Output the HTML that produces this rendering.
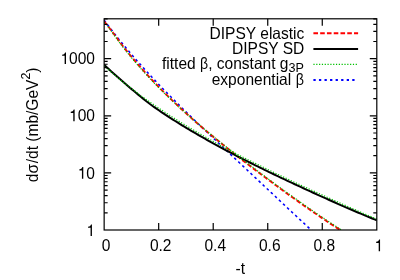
<!DOCTYPE html>
<html><head><meta charset="utf-8"><style>
html,body{margin:0;padding:0;background:#fff;}
svg{display:block}
text{font-family:"Liberation Sans",sans-serif;font-size:15.55px;fill:#000}
</style></head><body>
<svg width="400" height="280" viewBox="0 0 400 280">
<rect width="400" height="280" fill="#fff"/>
<defs><filter id="bl" x="-5%" y="-5%" width="110%" height="110%"><feGaussianBlur stdDeviation="0.35"/></filter><clipPath id="c"><rect x="104.15" y="18.8" width="272.65" height="211.2"/></clipPath></defs>
<g clip-path="url(#c)" fill="none" filter="url(#bl)">
<path d="M104.15,20.15 L105.93,22.54 L107.71,24.92 L109.49,27.26 L111.27,29.59 L113.05,31.88 L114.83,34.16 L116.61,36.41 L118.39,38.64 L120.17,40.85 L121.95,43.04 L123.73,45.20 L125.51,47.35 L127.29,49.48 L129.07,51.59 L130.85,53.68 L132.63,55.75 L134.41,57.81 L136.19,59.85 L137.97,61.87 L139.76,63.87 L141.54,65.86 L143.32,67.84 L145.10,69.80 L146.88,71.75 L148.66,73.69 L150.44,75.61 L152.22,77.52 L154.00,79.41 L155.78,81.30 L157.56,83.17 L159.34,85.03 L161.12,86.89 L162.90,88.73 L164.68,90.56 L166.46,92.38 L168.24,94.20 L170.02,96.00 L171.80,97.80 L173.58,99.59 L175.36,101.37 L177.14,103.15 L178.92,104.91 L180.70,106.67 L182.48,108.43 L184.26,110.18 L186.04,111.92 L187.82,113.66 L189.60,115.39 L191.38,117.12 L193.16,118.84 L194.94,120.56 L196.72,122.28 L198.50,123.99 L200.28,125.70 L202.06,127.40 L203.84,129.10 L205.62,130.80 L207.40,132.50 L209.18,134.19 L210.97,135.88 L212.75,137.57 L214.53,139.25 L216.31,140.94 L218.09,142.62 L219.87,144.31 L221.65,145.99 L223.43,147.67 L225.21,149.35 L226.99,151.02 L228.77,152.70 L230.55,154.38 L232.33,156.05 L234.11,157.73 L235.89,159.40 L237.67,161.08 L239.45,162.75 L241.23,164.43 L243.01,166.10 L244.79,167.78 L246.57,169.45 L248.35,171.12 L250.13,172.80 L251.91,174.47 L253.69,176.15 L255.47,177.82 L257.25,179.50 L259.03,181.17 L260.81,182.85 L262.59,184.52 L264.37,186.20 L266.15,187.88 L267.93,189.55 L269.71,191.23 L271.49,192.90 L273.27,194.58 L275.05,196.25 L276.83,197.93 L278.61,199.60 L280.39,201.27 L282.18,202.95 L283.96,204.62 L285.74,206.29 L287.52,207.96 L289.30,209.63 L291.08,211.30 L292.86,212.96 L294.64,214.63 L296.42,216.29 L298.20,217.95 L299.98,219.61 L301.76,221.27 L303.54,222.92 L305.32,224.57 L307.10,226.22 L308.88,227.87 L310.66,229.51 L312.44,231.15 L314.22,232.79 L316.00,234.42" stroke="#0000ff" stroke-width="1.55" stroke-dasharray="2.6 2.98"/>
<path d="M104.15,21.48 L106.17,23.87 L108.20,26.45 L110.22,29.03 L112.25,31.79 L114.27,34.51 L116.29,37.22 L118.32,40.04 L120.34,42.82 L122.37,45.54 L124.39,48.09 L126.41,50.61 L128.44,53.09 L130.46,55.54 L132.49,57.97 L134.51,60.36 L136.53,62.73 L138.56,65.06 L140.58,67.37 L142.61,69.65 L144.63,71.91 L146.65,74.14 L148.68,76.34 L150.70,78.52 L152.72,80.68 L154.75,82.81 L156.77,84.92 L158.80,87.01 L160.82,89.08 L162.84,91.12 L164.87,93.15 L166.89,95.15 L168.92,97.14 L170.94,99.11 L172.96,101.06 L174.99,102.99 L177.01,104.91 L179.04,106.81 L181.06,108.69 L183.08,110.56 L185.11,112.41 L187.13,114.24 L189.16,116.07 L191.18,117.88 L193.20,119.67 L195.23,121.45 L197.25,123.22 L199.28,124.98 L201.30,126.72 L203.32,128.46 L205.35,130.18 L207.37,131.89 L209.40,133.59 L211.42,135.28 L213.44,136.97 L215.47,138.64 L217.49,140.30 L219.52,141.95 L221.54,143.60 L223.56,145.24 L225.59,146.87 L227.61,148.49 L229.63,150.10 L231.66,151.71 L233.68,153.31 L235.71,154.90 L237.73,156.48 L239.75,158.06 L241.78,159.64 L243.80,161.20 L245.83,162.76 L247.85,164.32 L249.87,165.87 L251.90,167.42 L253.92,168.95 L255.95,170.49 L257.97,172.02 L259.99,173.54 L262.02,175.06 L264.04,176.58 L266.07,178.09 L268.09,179.59 L270.11,181.09 L272.14,182.59 L274.16,184.08 L276.19,185.57 L278.21,187.05 L280.23,188.53 L282.26,190.00 L284.28,191.47 L286.31,192.94 L288.33,194.40 L290.35,195.85 L292.38,197.30 L294.40,198.75 L296.43,200.19 L298.45,201.63 L300.47,203.06 L302.50,204.49 L304.52,205.91 L306.54,207.33 L308.57,208.74 L310.59,210.15 L312.62,211.55 L314.64,212.95 L316.66,214.34 L318.69,215.72 L320.71,217.10 L322.74,218.47 L324.76,219.83 L326.78,221.19 L328.81,222.54 L330.83,223.88 L332.86,225.22 L334.88,226.54 L336.90,227.86 L338.93,229.17 L340.95,230.47 L342.98,231.77 L345.00,233.05" stroke="#ff0000" stroke-width="1.9" stroke-dasharray="4.6 2.17"/>
<path d="M104.15,64.77 L106.44,66.94 L108.73,69.08 L111.02,71.18 L113.31,73.26 L115.61,75.31 L117.90,77.33 L120.19,79.32 L122.48,81.28 L124.77,83.21 L127.06,85.20 L129.35,87.18 L131.64,89.13 L133.94,91.05 L136.23,92.97 L138.52,94.87 L140.81,96.76 L143.10,98.62 L145.39,100.45 L147.68,102.27 L149.97,104.06 L152.26,105.70 L154.56,107.32 L156.85,108.92 L159.14,110.50 L161.43,112.06 L163.72,113.60 L166.01,115.12 L168.30,116.62 L170.59,118.11 L172.89,119.58 L175.18,121.03 L177.47,122.47 L179.76,123.90 L182.05,125.31 L184.34,126.70 L186.63,128.08 L188.92,129.45 L191.21,130.80 L193.51,132.15 L195.80,133.48 L198.09,134.79 L200.38,136.10 L202.67,137.42 L204.96,138.72 L207.25,140.02 L209.54,141.30 L211.84,142.58 L214.13,143.84 L216.42,145.10 L218.71,146.34 L221.00,147.58 L223.29,148.81 L225.58,150.03 L227.87,151.25 L230.16,152.45 L232.46,153.65 L234.75,154.84 L237.04,156.03 L239.33,157.21 L241.62,158.38 L243.91,159.55 L246.20,160.71 L248.49,161.86 L250.79,163.01 L253.08,164.16 L255.37,165.29 L257.66,166.43 L259.95,167.56 L262.24,168.68 L264.53,169.80 L266.82,170.92 L269.11,172.03 L271.41,173.14 L273.70,174.24 L275.99,175.34 L278.28,176.44 L280.57,177.53 L282.86,178.62 L285.15,179.70 L287.44,180.78 L289.74,181.86 L292.03,182.94 L294.32,184.01 L296.61,185.08 L298.90,186.15 L301.19,187.21 L303.48,188.27 L305.77,189.32 L308.06,190.38 L310.36,191.43 L312.65,192.48 L314.94,193.52 L317.23,194.56 L319.52,195.60 L321.81,196.64 L324.10,197.67 L326.39,198.70 L328.69,199.72 L330.98,200.75 L333.27,201.76 L335.56,202.78 L337.85,203.79 L340.14,204.80 L342.43,205.80 L344.72,206.80 L347.01,207.80 L349.31,208.79 L351.60,209.78 L353.89,210.76 L356.18,211.74 L358.47,212.72 L360.76,213.68 L363.05,214.65 L365.34,215.61 L367.64,216.56 L369.93,217.51 L372.22,218.45 L374.51,219.39 L376.80,220.32" stroke="#000" stroke-width="2"/>
<path d="M104.15,21.79 L106.17,24.29 L108.20,26.98 L110.22,29.67 L112.25,32.54 L114.27,35.37 L116.29,38.12 L118.32,40.94 L120.34,43.72 L122.37,46.44 L124.39,48.99 L126.41,51.51 L128.44,53.99 L130.46,56.44 L132.49,58.87 L134.51,61.26 L136.53,63.63 L138.56,65.96 L140.58,68.27 L142.61,70.55 L144.63,72.81 L146.65,75.04 L148.68,77.24 L150.70,79.40 L152.72,81.51 L154.75,83.60 L156.77,85.66 L158.80,87.70 L160.82,89.72 L162.84,91.72 L164.87,93.70 L166.89,95.65 L168.92,97.59 L170.94,99.51 L172.96,101.42 L174.99,103.30 L177.01,105.17 L179.04,107.02 L181.06,108.85 L183.08,110.67 L185.11,112.48 L187.13,114.26 L189.16,116.05 L191.18,117.82 L193.20,119.58 L195.23,121.33 L197.25,123.06 L199.28,124.79 L201.30,126.50 L203.32,128.20 L205.35,129.88 L207.37,131.56 L209.40,133.23 L211.42,134.89 L213.44,136.53 L215.47,138.17 L217.49,139.80 L219.52,141.42 L221.54,143.03 L223.56,144.63 L225.59,146.23 L227.61,147.81 L229.63,149.39 L231.66,150.96 L233.68,152.53 L235.71,154.10 L237.73,155.68 L239.75,157.26 L241.78,158.83 L243.80,160.40 L245.83,161.96 L247.85,163.51 L249.87,165.06 L251.90,166.60 L253.92,168.14 L255.95,169.67 L257.97,171.20 L259.99,172.72 L262.02,174.24 L264.04,175.75 L266.07,177.26 L268.09,178.76 L270.11,180.26 L272.14,181.75 L274.16,183.24 L276.19,184.73 L278.21,186.21 L280.23,187.69 L282.26,189.16 L284.28,190.63 L286.31,192.09 L288.33,193.55 L290.35,195.00 L292.38,196.45 L294.40,197.90 L296.43,199.34 L298.45,200.77 L300.47,202.20 L302.50,203.63 L304.52,205.05 L306.54,206.47 L308.57,207.88 L310.59,209.28 L312.62,210.68 L314.64,212.07 L316.66,213.46 L318.69,214.84 L320.71,216.22 L322.74,217.59 L324.76,218.95 L326.78,220.30 L328.81,221.65 L330.83,222.99 L332.86,224.33 L334.88,225.65 L336.90,226.97 L338.93,228.28 L340.95,229.58 L342.98,230.87 L345.00,232.15" stroke="#00c000" stroke-width="1.2" stroke-dasharray="1.2 1.62"/>
<path d="M104.15,65.57 L106.44,67.69 L108.73,69.79 L111.02,71.85 L113.31,73.89 L115.61,75.89 L117.90,77.87 L120.19,79.80 L122.48,81.56 L124.77,83.30 L127.06,85.09 L129.35,86.88 L131.64,88.66 L133.94,90.42 L136.23,92.17 L138.52,93.91 L140.81,95.60 L143.10,97.27 L145.39,98.92 L147.68,100.55 L149.97,102.15 L152.26,103.69 L154.56,105.27 L156.85,106.84 L159.14,108.38 L161.43,109.91 L163.72,111.42 L166.01,112.92 L168.30,114.43 L170.59,115.93 L172.89,117.40 L175.18,118.86 L177.47,120.31 L179.76,121.74 L182.05,123.15 L184.34,124.56 L186.63,125.94 L188.92,127.32 L191.21,128.68 L193.51,130.03 L195.80,131.36 L198.09,132.69 L200.38,134.01 L202.67,135.35 L204.96,136.68 L207.25,138.01 L209.54,139.32 L211.84,140.62 L214.13,141.91 L216.42,143.19 L218.71,144.47 L221.00,145.73 L223.29,146.99 L225.58,148.23 L227.87,149.43 L230.16,150.63 L232.46,151.82 L234.75,153.00 L237.04,154.18 L239.33,155.35 L241.62,156.51 L243.91,157.67 L246.20,158.82 L248.49,159.97 L250.79,161.11 L253.08,162.26 L255.37,163.40 L257.66,164.54 L259.95,165.67 L262.24,166.80 L264.53,167.92 L266.82,169.04 L269.11,170.15 L271.41,171.26 L273.70,172.37 L275.99,173.47 L278.28,174.57 L280.57,175.67 L282.86,176.76 L285.15,177.85 L287.44,178.93 L289.74,180.01 L292.03,181.09 L294.32,182.17 L296.61,183.24 L298.90,184.31 L301.19,185.37 L303.48,186.43 L305.77,187.49 L308.06,188.55 L310.36,189.60 L312.65,190.65 L314.94,191.70 L317.23,192.75 L319.52,193.79 L321.81,194.83 L324.10,195.86 L326.39,196.89 L328.69,197.92 L330.98,198.96 L333.27,200.00 L335.56,201.04 L337.85,202.07 L340.14,203.11 L342.43,204.14 L344.72,205.16 L347.01,206.18 L349.31,207.20 L351.60,208.21 L353.89,209.22 L356.18,210.22 L358.47,211.22 L360.76,212.21 L363.05,213.20 L365.34,214.18 L367.64,215.16 L369.93,216.13 L372.22,217.10 L374.51,218.06 L376.80,219.02" stroke="#00c000" stroke-width="1.2" stroke-dasharray="1.2 1.62"/>
</g>
<path d="M104.15,212.81h3.5 M376.8,212.81h-3.5 M104.15,202.76h3.5 M376.8,202.76h-3.5 M104.15,195.62h3.5 M376.8,195.62h-3.5 M104.15,190.09h3.5 M376.8,190.09h-3.5 M104.15,185.57h3.5 M376.8,185.57h-3.5 M104.15,181.75h3.5 M376.8,181.75h-3.5 M104.15,178.44h3.5 M376.8,178.44h-3.5 M104.15,175.52h3.5 M376.8,175.52h-3.5 M104.15,172.90h7 M376.8,172.90h-7 M104.15,155.72h3.5 M376.8,155.72h-3.5 M104.15,145.66h3.5 M376.8,145.66h-3.5 M104.15,138.53h3.5 M376.8,138.53h-3.5 M104.15,132.99h3.5 M376.8,132.99h-3.5 M104.15,128.47h3.5 M376.8,128.47h-3.5 M104.15,124.65h3.5 M376.8,124.65h-3.5 M104.15,121.34h3.5 M376.8,121.34h-3.5 M104.15,118.42h3.5 M376.8,118.42h-3.5 M104.15,115.81h7 M376.8,115.81h-7 M104.15,98.62h3.5 M376.8,98.62h-3.5 M104.15,88.56h3.5 M376.8,88.56h-3.5 M104.15,81.43h3.5 M376.8,81.43h-3.5 M104.15,75.90h3.5 M376.8,75.90h-3.5 M104.15,71.38h3.5 M376.8,71.38h-3.5 M104.15,67.55h3.5 M376.8,67.55h-3.5 M104.15,64.24h3.5 M376.8,64.24h-3.5 M104.15,61.32h3.5 M376.8,61.32h-3.5 M104.15,58.71h7 M376.8,58.71h-7 M104.15,41.52h3.5 M376.8,41.52h-3.5 M104.15,31.47h3.5 M376.8,31.47h-3.5 M104.15,24.33h3.5 M376.8,24.33h-3.5 M104.15,18.80h3.5 M376.8,18.80h-3.5 M158.68,230.0v-7 M158.68,18.8v7 M213.21,230.0v-7 M213.21,18.8v7 M267.74,230.0v-7 M267.74,18.8v7 M322.27,230.0v-7 M322.27,18.8v7" stroke="#000" stroke-width="1.2" fill="none"/>
<rect x="104.15" y="18.8" width="272.65" height="211.2" fill="none" stroke="#000" stroke-width="1.2"/>
<g opacity="0.999">
<path d="M109,505 L109,568 C205,580 262,612 301,709 L359,709 L359,0 L271,0 L271,505 Z" transform="translate(86.35,236.10) scale(0.01555,-0.01648)" fill="#000"/><path d="M109,505 L109,568 C205,580 262,612 301,709 L359,709 L359,0 L271,0 L271,505 Z" transform="translate(77.71,178.70) scale(0.01555,-0.01648)" fill="#000"/><text transform="translate(95.00,178.70) scale(1,1.06)" text-anchor="end">0</text><path d="M109,505 L109,568 C205,580 262,612 301,709 L359,709 L359,0 L271,0 L271,505 Z" transform="translate(69.06,121.21) scale(0.01555,-0.01648)" fill="#000"/><text transform="translate(95.00,121.21) scale(1,1.06)" text-anchor="end">00</text><path d="M109,505 L109,568 C205,580 262,612 301,709 L359,709 L359,0 L271,0 L271,505 Z" transform="translate(60.42,64.11) scale(0.01555,-0.01648)" fill="#000"/><text transform="translate(95.00,64.11) scale(1,1.06)" text-anchor="end">000</text>
<text transform="translate(106.15,251.20) scale(1,1.06)" text-anchor="middle">0</text><text transform="translate(160.68,251.20) scale(1,1.06)" text-anchor="middle">0.2</text><text transform="translate(215.21,251.20) scale(1,1.06)" text-anchor="middle">0.4</text><text transform="translate(269.74,251.20) scale(1,1.06)" text-anchor="middle">0.6</text><text transform="translate(324.27,251.20) scale(1,1.06)" text-anchor="middle">0.8</text><path d="M109,505 L109,568 C205,580 262,612 301,709 L359,709 L359,0 L271,0 L271,505 Z" transform="translate(374.48,251.20) scale(0.01555,-0.01648)" fill="#000"/>
<text transform="translate(240.20,274.40) scale(1,1.06)" text-anchor="middle">-t</text>
<text transform="translate(38.45,182.20) rotate(-90) scale(1,1.06)" text-anchor="start">dσ<tspan dx="0.65">/</tspan>dt (mb/GeV<tspan dy="-8.3" font-size="12.4">2</tspan><tspan dy="8.3">)</tspan></text>
<text transform="translate(304.30,38.50) scale(1,1.06)" text-anchor="end">DIPSY elastic</text>
<text transform="translate(304.30,53.90) scale(1,1.06)" text-anchor="end">DIPSY SD</text>
<text transform="translate(162.00,68.50) scale(1,1.06)" text-anchor="start">fitted</text><text transform="translate(200.0,68.5) scale(0.905,1.06)" text-anchor="start">β</text><text transform="translate(303.90,68.50) scale(1,1.06)" text-anchor="end">, constant g<tspan dy="3.4" font-size="12.6">3P</tspan></text>
<text transform="translate(291.20,84.80) scale(1,1.06)" text-anchor="end">exponential</text><text transform="translate(304.0,85.2) scale(0.92,1.06)" text-anchor="end">β</text>
</g>
<g fill="none">
<path d="M313.4,33.2H358.1" stroke="#ff0000" stroke-width="1.9" stroke-dasharray="4.6 2.17"/>
<path d="M313.4,49.1H358.1" stroke="#000" stroke-width="2"/>
<path d="M313.4,64.45H357.6" stroke="#00c000" stroke-width="1.2" stroke-dasharray="1.2 1.62"/>
<path d="M313.4,79.95H356" stroke="#0000ff" stroke-width="1.9" stroke-dasharray="2.3 3.25"/>
</g>
</svg>
</body></html>
